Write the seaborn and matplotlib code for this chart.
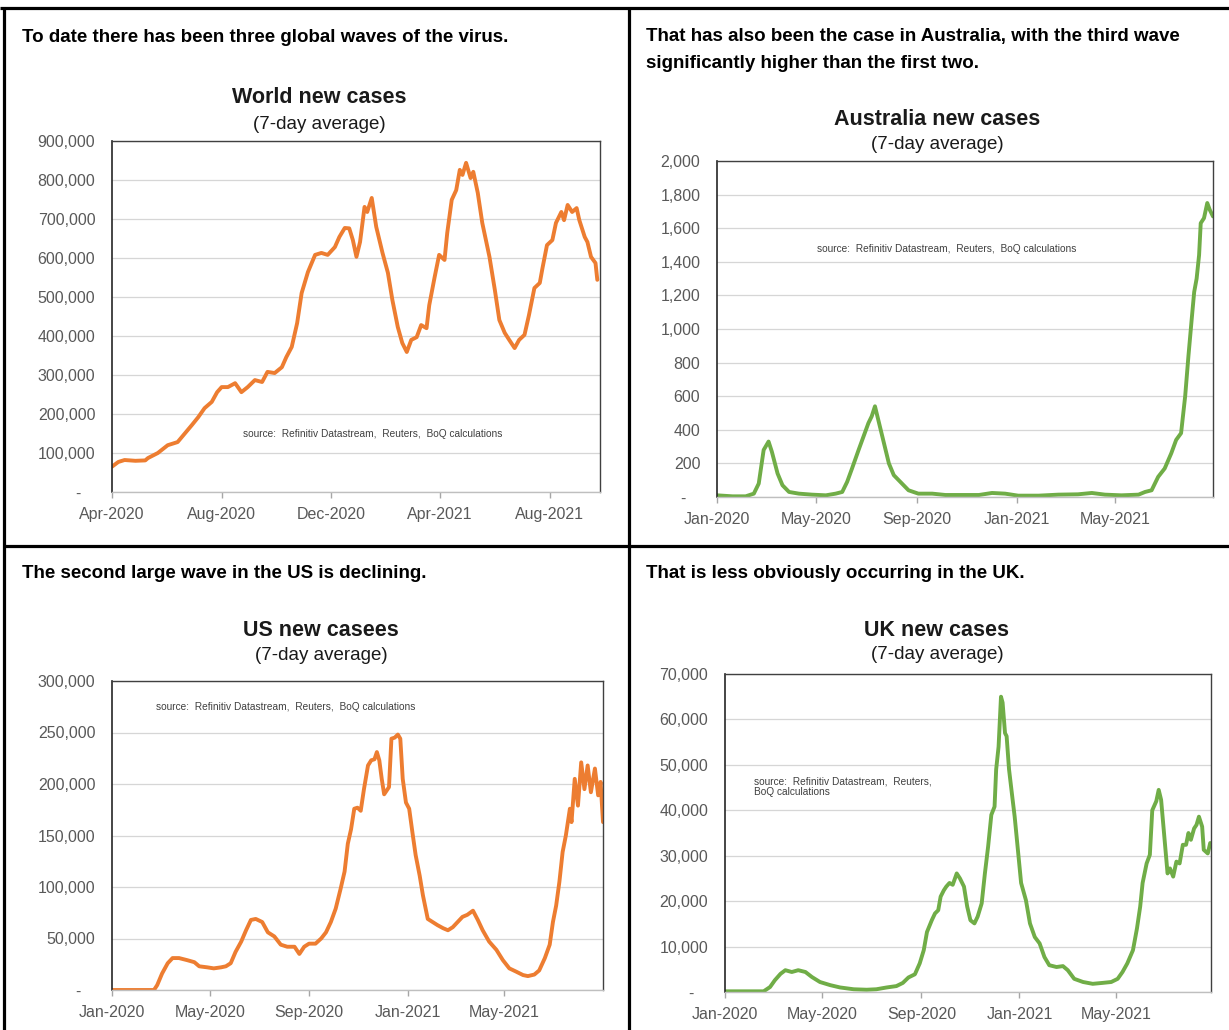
import numpy as np
import pandas as pd
import matplotlib
matplotlib.use("Agg")
import matplotlib.pyplot as plt
import matplotlib.dates as mdates
from matplotlib.ticker import FixedLocator, FuncFormatter
from matplotlib.lines import Line2D
from matplotlib import font_manager
import seaborn as sns

# ---------------- data ----------------
world_dates = [
    "2020-04-01", "2020-04-08", "2020-04-15", "2020-04-27", "2020-05-08", "2020-05-11", "2020-05-22", "2020-06-02", "2020-06-13", "2020-06-21",
    "2020-06-29", "2020-07-06", "2020-07-13", "2020-07-21", "2020-07-27", "2020-08-01", "2020-08-08", "2020-08-16", "2020-08-23", "2020-08-30",
    "2020-09-07", "2020-09-15", "2020-09-21", "2020-09-29", "2020-10-07", "2020-10-12", "2020-10-18", "2020-10-24", "2020-10-29", "2020-11-05",
    "2020-11-13", "2020-11-20", "2020-11-27", "2020-12-05", "2020-12-10", "2020-12-16", "2020-12-21", "2020-12-25", "2020-12-29", "2021-01-02",
    "2021-01-07", "2021-01-10", "2021-01-15", "2021-01-20", "2021-01-27", "2021-02-02", "2021-02-07", "2021-02-13", "2021-02-18", "2021-02-23",
    "2021-02-28", "2021-03-06", "2021-03-11", "2021-03-17", "2021-03-20", "2021-03-26", "2021-03-31", "2021-04-06", "2021-04-09", "2021-04-14",
    "2021-04-19", "2021-04-23", "2021-04-26", "2021-04-30", "2021-05-05", "2021-05-08", "2021-05-13", "2021-05-18", "2021-05-26", "2021-06-01",
    "2021-06-06", "2021-06-12", "2021-06-17", "2021-06-23", "2021-06-28", "2021-07-04", "2021-07-09", "2021-07-15", "2021-07-21", "2021-07-24",
    "2021-07-29", "2021-08-04", "2021-08-08", "2021-08-14", "2021-08-17", "2021-08-21", "2021-08-26", "2021-08-31", "2021-09-03", "2021-09-09",
    "2021-09-12", "2021-09-16", "2021-09-21", "2021-09-23",
]
world_cases = [
    65000, 77000, 82000, 80000, 81000, 87000, 100000, 120000, 128000, 150000,
    172000, 192000, 215000, 231000, 256000, 269000, 269000, 279000, 256000, 269000,
    287000, 282000, 308000, 305000, 320000, 346000, 372000, 433000, 510000, 564000,
    608000, 613000, 608000, 628000, 654000, 677000, 676000, 646000, 603000, 641000,
    731000, 718000, 754000, 680000, 613000, 562000, 492000, 423000, 382000, 359000,
    390000, 397000, 428000, 420000, 479000, 551000, 608000, 595000, 664000, 749000,
    774000, 826000, 813000, 844000, 805000, 821000, 767000, 690000, 603000, 518000,
    441000, 408000, 390000, 369000, 390000, 403000, 454000, 523000, 536000, 574000,
    633000, 646000, 690000, 718000, 697000, 736000, 718000, 728000, 697000, 654000,
    641000, 603000, 587000, 544000,
]

aus_dates = [
    "2020-01-01", "2020-01-20", "2020-02-05", "2020-02-15", "2020-02-21", "2020-02-27", "2020-03-04", "2020-03-08", "2020-03-15", "2020-03-21",
    "2020-03-29", "2020-04-10", "2020-04-26", "2020-05-13", "2020-05-25", "2020-06-02", "2020-06-08", "2020-06-14", "2020-06-22", "2020-06-28",
    "2020-07-04", "2020-07-08", "2020-07-12", "2020-07-17", "2020-07-23", "2020-07-29", "2020-08-04", "2020-08-12", "2020-08-22", "2020-09-03",
    "2020-09-20", "2020-10-06", "2020-10-26", "2020-11-16", "2020-12-02", "2020-12-18", "2021-01-03", "2021-01-28", "2021-02-21", "2021-03-17",
    "2021-04-03", "2021-04-19", "2021-05-09", "2021-05-30", "2021-06-07", "2021-06-15", "2021-06-23", "2021-07-01", "2021-07-09", "2021-07-15",
    "2021-07-21", "2021-07-26", "2021-07-30", "2021-08-03", "2021-08-06", "2021-08-09", "2021-08-12", "2021-08-14", "2021-08-18", "2021-08-22",
    "2021-08-25", "2021-08-29",
]
aus_cases = [
    10, 4, 4, 20, 80, 280, 330, 270, 140, 70,
    30, 20, 14, 10, 20, 30, 90, 170, 280, 360,
    440, 480, 540, 440, 320, 200, 130, 90, 40, 20,
    20, 12, 12, 12, 24, 20, 8, 8, 14, 16,
    24, 14, 10, 14, 30, 40, 120, 170, 260, 340,
    380, 600, 840, 1060, 1220, 1300, 1440, 1630, 1660, 1750,
    1710, 1670,
]

us_dates = [
    "2020-01-01", "2020-02-22", "2020-02-26", "2020-03-03", "2020-03-10", "2020-03-16", "2020-03-24", "2020-04-03", "2020-04-12", "2020-04-18",
    "2020-04-28", "2020-05-06", "2020-05-15", "2020-05-21", "2020-05-27", "2020-06-02", "2020-06-09", "2020-06-15", "2020-06-21", "2020-06-27",
    "2020-07-05", "2020-07-12", "2020-07-20", "2020-07-28", "2020-08-05", "2020-08-14", "2020-08-20", "2020-08-26", "2020-09-01", "2020-09-09",
    "2020-09-16", "2020-09-22", "2020-09-28", "2020-10-04", "2020-10-10", "2020-10-15", "2020-10-19", "2020-10-23", "2020-10-27", "2020-10-31",
    "2020-11-04", "2020-11-08", "2020-11-13", "2020-11-17", "2020-11-21", "2020-11-24", "2020-11-27", "2020-11-30", "2020-12-03", "2020-12-09",
    "2020-12-12", "2020-12-16", "2020-12-20", "2020-12-23", "2020-12-26", "2020-12-30", "2021-01-03", "2021-01-07", "2021-01-11", "2021-01-16",
    "2021-01-20", "2021-01-26", "2021-02-01", "2021-02-07", "2021-02-14", "2021-02-20", "2021-02-26", "2021-03-04", "2021-03-10", "2021-03-16",
    "2021-03-23", "2021-03-29", "2021-04-04", "2021-04-12", "2021-04-21", "2021-04-29", "2021-05-07", "2021-05-15", "2021-05-24", "2021-05-30",
    "2021-06-07", "2021-06-13", "2021-06-20", "2021-06-26", "2021-06-30", "2021-07-04", "2021-07-08", "2021-07-12", "2021-07-16", "2021-07-21",
    "2021-07-23", "2021-07-27", "2021-07-31", "2021-08-04", "2021-08-08", "2021-08-12", "2021-08-16", "2021-08-21", "2021-08-25", "2021-08-28",
    "2021-08-31",
]
us_cases = [
    0, 0, 4800, 16000, 26000, 31000, 31000, 29000, 27000, 23000,
    22000, 21000, 22000, 23000, 26000, 37000, 47000, 58000, 68000, 69000,
    66000, 56000, 52000, 44000, 42000, 42000, 35000, 42000, 45000, 45000,
    50000, 56000, 66000, 79000, 98000, 115000, 142000, 156000, 176000, 177000,
    174000, 195000, 218000, 223000, 224000, 231000, 223000, 205000, 190000, 197000,
    244000, 245000, 248000, 244000, 205000, 182000, 176000, 153000, 131000, 111000,
    92000, 69000, 66000, 63000, 60000, 58000, 61000, 66000, 71000, 73000,
    77000, 68000, 58000, 47000, 39000, 29000, 21000, 18000, 14500, 13500,
    15000, 19000, 31000, 44000, 66000, 82000, 105000, 134000, 150000, 176000,
    163000, 205000, 179000, 221000, 195000, 218000, 192000, 215000, 189000, 202000,
    163000,
]

uk_dates = [
    "2020-01-01", "2020-02-18", "2020-02-26", "2020-03-03", "2020-03-10", "2020-03-16", "2020-03-24", "2020-04-01", "2020-04-10", "2020-04-18",
    "2020-04-28", "2020-05-11", "2020-05-23", "2020-06-09", "2020-06-25", "2020-07-07", "2020-07-20", "2020-08-01", "2020-08-09", "2020-08-16",
    "2020-08-24", "2020-08-30", "2020-09-04", "2020-09-08", "2020-09-14", "2020-09-18", "2020-09-22", "2020-09-25", "2020-09-29", "2020-10-02",
    "2020-10-06", "2020-10-10", "2020-10-15", "2020-10-19", "2020-10-24", "2020-10-28", "2020-11-01", "2020-11-06", "2020-11-10", "2020-11-15",
    "2020-11-19", "2020-11-23", "2020-11-27", "2020-12-01", "2020-12-03", "2020-12-06", "2020-12-09", "2020-12-11", "2020-12-14", "2020-12-16",
    "2020-12-19", "2020-12-23", "2020-12-26", "2020-12-30", "2021-01-03", "2021-01-09", "2021-01-14", "2021-01-20", "2021-01-26", "2021-02-01",
    "2021-02-07", "2021-02-16", "2021-02-24", "2021-03-02", "2021-03-10", "2021-03-21", "2021-04-02", "2021-04-14", "2021-04-25", "2021-05-03",
    "2021-05-09", "2021-05-15", "2021-05-22", "2021-05-27", "2021-05-31", "2021-06-03", "2021-06-08", "2021-06-12", "2021-06-15", "2021-06-20",
    "2021-06-23", "2021-06-26", "2021-06-30", "2021-07-04", "2021-07-07", "2021-07-11", "2021-07-15", "2021-07-19", "2021-07-23", "2021-07-27",
    "2021-07-30", "2021-08-02", "2021-08-06", "2021-08-09", "2021-08-12", "2021-08-16", "2021-08-18", "2021-08-23", "2021-08-26",
]
uk_cases = [
    150, 150, 1100, 2600, 4000, 4800, 4400, 4800, 4400, 3300,
    2200, 1500, 1000, 600, 500, 600, 1000, 1300, 2000, 3200,
    3900, 6300, 9200, 13200, 15800, 17300, 18000, 21000, 22400, 23200,
    24000, 23600, 26100, 25000, 23200, 18800, 15800, 15100, 16600, 19500,
    26100, 32000, 39000, 40800, 49000, 54000, 65000, 63700, 57000, 56300,
    49000, 43000, 38600, 31300, 24000, 20200, 15100, 12100, 10700, 7700,
    5900, 5500, 5700, 4800, 2900, 2200, 1800, 2000, 2200, 2900,
    4400, 6300, 9200, 14000, 18800, 24000, 28300, 30200, 40000, 42000,
    44500, 42300, 34200, 26100, 27200, 25400, 28700, 28300, 32400, 32400,
    35000, 33500, 36000, 36800, 38600, 36400, 31300, 30500, 32800,
]

world_ticks = ["2020-04-01", "2020-08-01", "2020-12-01", "2021-04-01", "2021-08-01"]
other_ticks = ["2020-01-01", "2020-05-01", "2020-09-01", "2021-01-01", "2021-05-01"]

headers = [
    "To date there has been three global waves of the virus.",
    "That has also been the case in Australia, with the third wave",
    "significantly higher than the first two.",
    "The second large wave in the US is declining.",
    "That is less obviously occurring in the UK.",
]
titles = ["World new cases", "Australia new cases", "US new casees", "UK new cases"]
subtitle = "(7-day average)"
source = "source:  Refinitiv Datastream,  Reuters,  BoQ calculations"
source_uk = "source:  Refinitiv Datastream,  Reuters,\nBoQ calculations"

ORANGE = "#ED7D31"
GREEN = "#70AD47"

# ---------------- style ----------------
sns.set_theme(style="white")
available = {f.name for f in font_manager.fontManager.ttflist}
HAS_NARROW = "Liberation Sans Narrow" in available
plt.rcParams["font.family"] = ["Liberation Sans", "DejaVu Sans"]
TITLE_FAMILY = ["Liberation Sans Narrow", "Liberation Sans"] if HAS_NARROW else ["Liberation Sans"]
TITLE_SIZE = 18 if HAS_NARROW else 15.5
SUB_SIZE = 15.5 if HAS_NARROW else 13.5

W, H = 1229, 1030
fig = plt.figure(figsize=(W / 100, H / 100), dpi=100)
fig.patch.set_facecolor("white")


def fx(px):
    return px / W


def fy(py):
    return 1 - py / H


def make_ax(left, top, right, bottom):
    return fig.add_axes([fx(left), fy(bottom), (right - left) / W, (bottom - top) / H])


def draw_panel(ax, dates, values, color, xstart, xend, ticks, ymax, ystep):
    df = pd.DataFrame({"date": pd.to_datetime(dates), "cases": values})
    sns.lineplot(data=df, x="date", y="cases", ax=ax, color=color, linewidth=2.8,
                 estimator=None, sort=True)
    ax.set_xlim(pd.Timestamp(xstart), pd.Timestamp(xend))
    ax.set_ylim(0, ymax)
    ax.yaxis.set_major_locator(FixedLocator(np.arange(0, ymax + 1, ystep)))
    ax.yaxis.set_major_formatter(FuncFormatter(lambda v, p: "-   " if v == 0 else f"{int(round(v)):,}"))
    ax.xaxis.set_major_locator(FixedLocator([mdates.date2num(pd.Timestamp(t)) for t in ticks]))
    ax.xaxis.set_major_formatter(mdates.DateFormatter("%b-%Y"))
    ax.set_xlabel("")
    ax.set_ylabel("")
    ax.grid(axis="y", color="#d6d6d6", linewidth=0.9)
    ax.grid(axis="x", visible=False)
    ax.set_axisbelow(True)
    ax.tick_params(axis="y", length=0, pad=12, labelsize=11.5, labelcolor="#595959")
    ax.tick_params(axis="x", length=4, width=1, color="#a6a6a6", direction="out", pad=7,
                   labelsize=11.5, labelcolor="#595959", bottom=True)
    for s in ["top", "right"]:
        ax.spines[s].set_color("#404040")
        ax.spines[s].set_linewidth(1.0)
    ax.spines["left"].set_color("#262626")
    ax.spines["left"].set_linewidth(1.2)
    ax.spines["bottom"].set_color("#bfbfbf")
    ax.spines["bottom"].set_linewidth(1.0)
    for s in ax.spines.values():
        s.set_visible(True)


# World
ax1 = make_ax(112, 141, 600, 492)
draw_panel(ax1, world_dates, world_cases, ORANGE, "2020-04-01", "2021-09-26", world_ticks, 900000, 100000)
ax1.text(0.268, 0.165, source, transform=ax1.transAxes, fontsize=7.3, color="#404040", ha="left", va="center")

# Australia
ax2 = make_ax(717, 161, 1213, 497)
draw_panel(ax2, aus_dates, aus_cases, GREEN, "2020-01-01", "2021-08-29", other_ticks, 2000, 200)
ax2.text(0.2016, 0.738, source, transform=ax2.transAxes, fontsize=7.3, color="#404040", ha="left", va="center")

# US
ax3 = make_ax(112, 681, 603, 990)
draw_panel(ax3, us_dates, us_cases, ORANGE, "2020-01-01", "2021-08-31", other_ticks, 300000, 50000)
ax3.text(0.0896, 0.916, source, transform=ax3.transAxes, fontsize=7.3, color="#404040", ha="left", va="center")

# UK
ax4 = make_ax(725, 674, 1211, 992)
draw_panel(ax4, uk_dates, uk_cases, GREEN, "2020-01-01", "2021-08-27", other_ticks, 70000, 10000)
ax4.text(0.0597, 0.645, source_uk, transform=ax4.transAxes, fontsize=7.3, color="#404040", ha="left",
         va="center", linespacing=1.15)

# headers
hdr = dict(ha="left", va="center", fontsize=13.5, fontweight="bold", color="black")
fig.text(fx(22), fy(37), headers[0], **hdr)
fig.text(fx(646), fy(37), headers[1], **hdr)
fig.text(fx(646), fy(63), headers[2], **hdr)
fig.text(fx(22), fy(574), headers[3], **hdr)
fig.text(fx(646), fy(574), headers[4], **hdr)

# chart titles
title_pos = [(319, 97.5, 124.5), (937, 119.5, 144.5), (321, 630.5, 655.5), (937, 630.5, 654.5)]
for t, (cx, ty, sy) in zip(titles, title_pos):
    fig.text(fx(cx), fy(ty), t, ha="center", va="center", fontsize=TITLE_SIZE, fontweight="bold",
             family=TITLE_FAMILY, color="#1a1a1a")
    fig.text(fx(cx), fy(sy), subtitle, ha="center", va="center", fontsize=SUB_SIZE,
             family=TITLE_FAMILY, color="#1a1a1a")

# panel borders
bl = dict(transform=fig.transFigure, color="black", linewidth=2.3, solid_capstyle="butt")
fig.add_artist(Line2D([0, 1], [fy(8), fy(8)], **bl))
fig.add_artist(Line2D([fx(4), fx(4)], [fy(8), 0], **bl))
fig.add_artist(Line2D([fx(629), fx(629)], [fy(8), 0], **bl))
fig.add_artist(Line2D([fx(4), 1], [fy(546), fy(546)], **bl))

fig.savefig("out.png", dpi=100, facecolor="white")
